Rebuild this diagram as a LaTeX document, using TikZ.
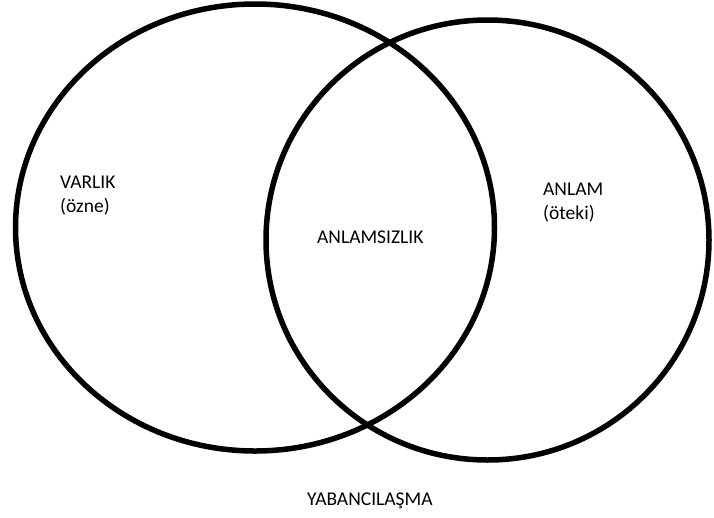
\documentclass[tikz,border=0pt]{standalone}
\usepackage{fontspec}
\setmainfont{Carlito}
\begin{document}
\begin{tikzpicture}[x=1pt,y=-1pt,
  ring/.style={draw=black,line width=5.5pt},
  lbl/.style={inner sep=0pt,anchor=base west,font=\fontsize{19.5}{24}\selectfont}]
\useasboundingbox (0,0) rectangle (714,517);
\draw[ring] (255,227.5) ellipse [x radius=239.5,y radius=223.5];
\draw[ring] (487.5,240) ellipse [x radius=221.5,y radius=220];
\node[lbl] (varlik) at (60,188) {VARLIK};
\node[lbl] (ozne) at (60,212) {(özne)};
\node[lbl] (anlam) at (543,195) {ANLAM};
\node[lbl] (oteki) at (543,219) {(öteki)};
\node[lbl] (anlamsiz) at (317,243) {ANLAMSIZLIK};
\node[lbl] (yaban) at (307,505) {YABANCILAŞMA};
\end{tikzpicture}
\end{document}
